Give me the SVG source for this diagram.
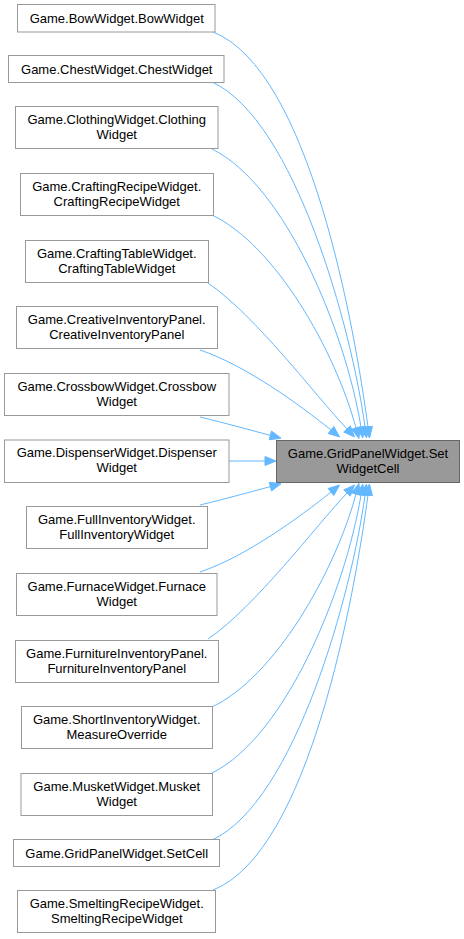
<svg xmlns="http://www.w3.org/2000/svg" width="464" height="939" viewBox="0 0 464 939">
<style>
.n rect{fill:#ffffff;stroke:#999999;stroke-width:1}
.t rect{fill:#999999;stroke:#666666;stroke-width:1}
text{font-family:"Liberation Sans",Arial,sans-serif;font-size:13px;fill:#000000;text-anchor:middle}
.e path{fill:none;stroke:#63b8ff;stroke-width:1}
.e polygon{fill:#63b8ff;stroke:#63b8ff;stroke-width:1}
</style>
<rect width="464" height="939" fill="#ffffff"/>
<g class="e" id="edges">
<path d="M213,32 C310,70 355,330 368,427"/><polygon points="369.46,437.9 363.54,427.6 372.46,426.4"/>
<path d="M212,82 C295,120 352,330 365,427"/><polygon points="366.46,437.9 360.54,427.6 369.46,426.4"/>
<path d="M212,149 C285,185 345,330 361,427"/><polygon points="362.79,437.85 356.56,427.73 365.44,426.27"/>
<path d="M212,215 C275,245 335,350 356,428"/><polygon points="358.86,438.62 351.66,429.17 360.35,426.83"/>
<path d="M208,283 C255,315 315,395 347,429"/><polygon points="354.54,437.01 343.72,432.08 350.28,425.92"/>
<path d="M200,350 C245,365 300,405 331,430"/><polygon points="339.56,436.91 328.17,433.5 333.83,426.5"/>
<path d="M200,417 C225,423 250,430 270.4,435.4"/><polygon points="281.03,438.22 269.25,439.75 271.55,431.05"/>
<path d="M229,461 L265,461"/><polygon points="276,461 265,456.5 265,465.5"/>
<path d="M200,505 C225,499 250,492 270.4,486.6"/><polygon points="281.03,483.78 269.25,482.25 271.55,490.95"/>
<path d="M200,572 C245,557 300,517 331,492"/><polygon points="339.56,485.09 328.17,488.5 333.83,495.5"/>
<path d="M208,639 C255,607 315,527 347,493"/><polygon points="354.54,484.99 343.72,489.92 350.28,496.08"/>
<path d="M212,707 C275,677 335,572 356,494"/><polygon points="358.86,483.38 351.66,492.83 360.35,495.17"/>
<path d="M212,773 C285,737 345,592 361,495"/><polygon points="362.79,484.15 356.56,494.27 365.44,495.73"/>
<path d="M212,840 C295,802 352,592 365,495"/><polygon points="366.46,484.1 360.54,494.4 369.46,495.6"/>
<path d="M213,890 C310,852 355,592 368,495"/><polygon points="369.46,484.1 363.54,494.4 372.46,495.6"/>
</g>
<g class="t" id="target"><rect x="276.5" y="440.5" width="183" height="42"/><text x="368" y="457.5">Game.GridPanelWidget.Set</text><text x="368" y="472.5">WidgetCell</text></g>
<g class="n" id="bow"><rect x="17.5" y="4.5" width="197.5" height="27.5"/><text x="116.75" y="22.5">Game.BowWidget.BowWidget</text></g>
<g class="n" id="chest"><rect x="8.5" y="55.5" width="215.5" height="27"/><text x="116.75" y="73.5">Game.ChestWidget.ChestWidget</text></g>
<g class="n" id="clothing"><rect x="15.5" y="106.5" width="202.5" height="42"/><text x="116.75" y="123.5">Game.ClothingWidget.Clothing</text><text x="116.75" y="138.5">Widget</text></g>
<g class="n" id="craftingrecipe"><rect x="20.5" y="173.5" width="193" height="42"/><text x="116.75" y="190.5">Game.CraftingRecipeWidget.</text><text x="116.75" y="205.5">CraftingRecipeWidget</text></g>
<g class="n" id="craftingtable"><rect x="25.5" y="240.5" width="183" height="42"/><text x="116.75" y="257.5">Game.CraftingTableWidget.</text><text x="116.75" y="272.5">CraftingTableWidget</text></g>
<g class="n" id="creative"><rect x="16.5" y="306.5" width="201" height="42"/><text x="116.75" y="323.5">Game.CreativeInventoryPanel.</text><text x="116.75" y="338.5">CreativeInventoryPanel</text></g>
<g class="n" id="crossbow"><rect x="4.5" y="373.5" width="224.5" height="42"/><text x="116.75" y="390.5">Game.CrossbowWidget.Crossbow</text><text x="116.75" y="405.5">Widget</text></g>
<g class="n" id="dispenser"><rect x="4.5" y="440" width="224.5" height="42.5"/><text x="116.75" y="457">Game.DispenserWidget.Dispenser</text><text x="116.75" y="472">Widget</text></g>
<g class="n" id="fullinventory"><rect x="26.5" y="506.5" width="181" height="42"/><text x="116.75" y="523.5">Game.FullInventoryWidget.</text><text x="116.75" y="538.5">FullInventoryWidget</text></g>
<g class="n" id="furnace"><rect x="16.5" y="573.5" width="200.5" height="42"/><text x="116.75" y="590.5">Game.FurnaceWidget.Furnace</text><text x="116.75" y="605.5">Widget</text></g>
<g class="n" id="furniture"><rect x="15.5" y="640.5" width="203" height="42"/><text x="116.75" y="657.5">Game.FurnitureInventoryPanel.</text><text x="116.75" y="672.5">FurnitureInventoryPanel</text></g>
<g class="n" id="shortinventory"><rect x="21.5" y="706.5" width="191" height="42"/><text x="116.75" y="723.5">Game.ShortInventoryWidget.</text><text x="116.75" y="738.5">MeasureOverride</text></g>
<g class="n" id="musket"><rect x="21" y="773.5" width="191.5" height="42"/><text x="116.75" y="790.5">Game.MusketWidget.Musket</text><text x="116.75" y="805.5">Widget</text></g>
<g class="n" id="setcell"><rect x="13.5" y="839.5" width="206" height="27"/><text x="116.75" y="857.5">Game.GridPanelWidget.SetCell</text></g>
<g class="n" id="smelting"><rect x="17.5" y="890.5" width="198" height="42"/><text x="116.75" y="907.5">Game.SmeltingRecipeWidget.</text><text x="116.75" y="922.5">SmeltingRecipeWidget</text></g>
</svg>
